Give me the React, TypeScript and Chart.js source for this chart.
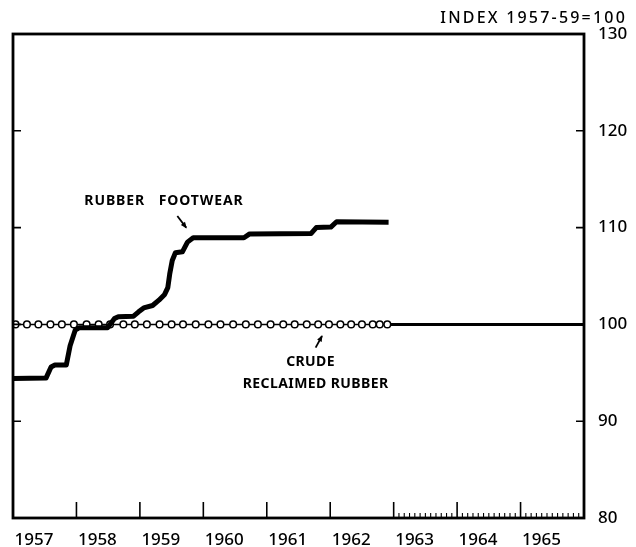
import React, { useEffect, useRef } from 'react';
import { Chart, registerables } from 'chart.js';
Chart.register(...registerables);

// ---- data ----
const yearLabels = ['1957', '1958', '1959', '1960', '1961', '1962', '1963', '1964', '1965'];
const yearStarts = [1957, 1958, 1959, 1960, 1961, 1962, 1963, 1964, 1965, 1966];
const minorTickYears = [1963, 1964, 1965];
const yTickValues = [80, 90, 100, 110, 120, 130];

const footwearDates = [
  1957.0, 1957.52, 1957.6, 1957.66, 1957.84, 1957.9, 1957.98, 1958.04, 1958.49, 1958.6,
  1958.66, 1958.9, 1958.98, 1959.06, 1959.2, 1959.3, 1959.39, 1959.44, 1959.47, 1959.51,
  1959.56, 1959.67, 1959.75, 1959.84, 1960.64, 1960.73, 1961.7, 1961.78, 1962.01, 1962.1,
  1962.92,
];
const footwearValues = [
  94.4, 94.45, 95.6, 95.8, 95.8, 97.8, 99.4, 99.65, 99.65, 100.6,
  100.8, 100.85, 101.3, 101.7, 101.95, 102.5, 103.1, 103.8, 105.2, 106.6,
  107.4, 107.5, 108.5, 108.95, 108.95, 109.35, 109.4, 110.0, 110.05, 110.6,
  110.55,
];

const crudeDates = [
  1957.04, 1957.22, 1957.4, 1957.59, 1957.77, 1957.96, 1958.16, 1958.35, 1958.53, 1958.74,
  1958.92, 1959.11, 1959.31, 1959.5, 1959.68, 1959.88, 1960.08, 1960.27, 1960.47, 1960.67,
  1960.86, 1961.06, 1961.26, 1961.44, 1961.63, 1961.81, 1961.98, 1962.16, 1962.33, 1962.5,
  1962.67, 1962.78, 1962.9,
];
const crudeValues = [
  100, 100, 100, 100, 100, 100, 100, 100, 100, 100,
  100, 100, 100, 100, 100, 100, 100, 100, 100, 100,
  100, 100, 100, 100, 100, 100, 100, 100, 100, 100,
  100, 100, 100,
];
const crudeLaterDates = [1962.95, 1966.0];
const crudeLaterValues = [100, 100];

const unitLabel = 'INDEX 1957-59=100';
const footwearLabel = 'RUBBER   FOOTWEAR';
const crudeLabel1 = 'CRUDE';
const crudeLabel2 = 'RECLAIMED RUBBER';

const FONT = '"Noto Sans", "Liberation Sans", Arial, sans-serif';

function arrow(ctx: CanvasRenderingContext2D, x1: number, y1: number, x2: number, y2: number) {
  const ang = Math.atan2(y2 - y1, x2 - x1);
  ctx.beginPath();
  ctx.moveTo(x1, y1);
  ctx.lineTo(x2, y2);
  ctx.lineWidth = 1.8;
  ctx.stroke();
  const h = 6;
  ctx.beginPath();
  ctx.moveTo(x2 + Math.cos(ang) * 1, y2 + Math.sin(ang) * 1);
  ctx.lineTo(x2 - Math.cos(ang - 0.45) * h, y2 - Math.sin(ang - 0.45) * h);
  ctx.lineTo(x2 - Math.cos(ang + 0.45) * h, y2 - Math.sin(ang + 0.45) * h);
  ctx.closePath();
  ctx.fill();
}

const decorPlugin = {
  id: 'decor',
  afterDraw(chart: any) {
    const ctx: CanvasRenderingContext2D = chart.ctx;
    const { left, right, top, bottom } = chart.chartArea;
    const xs = chart.scales.x;
    const ys = chart.scales.y;
    ctx.save();
    ctx.strokeStyle = '#000';
    ctx.fillStyle = '#000';
    // frame
    ctx.lineWidth = 2.8;
    ctx.strokeRect(left, top, right - left, bottom - top);
    // major x ticks (year boundaries)
    ctx.lineWidth = 1.6;
    yearStarts.forEach((yr) => {
      const px = xs.getPixelForValue(yr);
      ctx.beginPath();
      ctx.moveTo(px, bottom);
      ctx.lineTo(px, bottom - 16);
      ctx.stroke();
    });
    // minor monthly ticks
    ctx.lineWidth = 1.1;
    minorTickYears.forEach((yr) => {
      for (let m = 1; m < 12; m++) {
        const px = xs.getPixelForValue(yr + m / 12);
        ctx.beginPath();
        ctx.moveTo(px, bottom);
        ctx.lineTo(px, bottom - 5);
        ctx.stroke();
      }
    });
    // y ticks inward
    ctx.lineWidth = 1.6;
    [90, 100, 110, 120].forEach((v) => {
      const py = ys.getPixelForValue(v);
      ctx.beginPath();
      ctx.moveTo(right, py);
      ctx.lineTo(right - 8, py);
      ctx.moveTo(left, py);
      ctx.lineTo(left + 8, py);
      ctx.stroke();
    });
    // unit label
    ctx.font = `500 16px ${FONT}`;
    (ctx as any).letterSpacing = '2.2px';
    ctx.textAlign = 'right';
    ctx.textBaseline = 'middle';
    ctx.fillText(unitLabel, 627, 18);
    // annotations
    ctx.font = `bold 14px ${FONT}`;
    (ctx as any).letterSpacing = '0.9px';
    ctx.textAlign = 'center';
    ctx.fillText(footwearLabel, xs.getPixelForValue(1959.38), ys.getPixelForValue(112.7));
    (ctx as any).letterSpacing = '0.4px';
    ctx.fillText(crudeLabel1, xs.getPixelForValue(1961.69), ys.getPixelForValue(96.1));
    ctx.fillText(crudeLabel2, xs.getPixelForValue(1961.77), ys.getPixelForValue(93.8));
    (ctx as any).letterSpacing = '0px';
    arrow(ctx, xs.getPixelForValue(1959.59), ys.getPixelForValue(111.2), xs.getPixelForValue(1959.73), ys.getPixelForValue(110.0));
    arrow(ctx, xs.getPixelForValue(1961.77), ys.getPixelForValue(97.6), xs.getPixelForValue(1961.87), ys.getPixelForValue(98.8));
    ctx.restore();
  },
};

export default function App() {
  const ref = useRef<HTMLCanvasElement>(null);
  useEffect(() => {
    if (!ref.current) return;
    const chart = new Chart(ref.current, {
      type: 'line',
      data: {
        datasets: [
          {
            label: 'Rubber footwear',
            data: footwearDates.map((d, i) => ({ x: d, y: footwearValues[i] })),
            borderColor: '#000',
            borderWidth: 5,
            pointRadius: 0,
            tension: 0,
            borderJoinStyle: 'round',
          },
          {
            label: 'Crude reclaimed rubber',
            data: crudeDates.map((d, i) => ({ x: d, y: crudeValues[i] })),
            borderColor: '#000',
            borderWidth: 1.5,
            pointRadius: 3.3,
            pointBorderWidth: 1.5,
            pointBackgroundColor: '#fff',
            pointBorderColor: '#000',
            tension: 0,
          },
          {
            label: 'Crude reclaimed rubber (later)',
            data: crudeLaterDates.map((d, i) => ({ x: d, y: crudeLaterValues[i] })),
            borderColor: '#000',
            borderWidth: 3,
            pointRadius: 0,
            tension: 0,
          },
        ],
      },
      options: {
        responsive: false,
        animation: false,
        layout: { padding: { left: 13, top: 34, right: 0, bottom: 0 } },
        plugins: { legend: { display: false }, tooltip: { enabled: false }, title: { display: false } },
        scales: {
          x: {
            type: 'linear',
            min: 1957,
            max: 1966,
            grid: { display: false },
            border: { display: false },
            afterBuildTicks: (scale: any) => {
              scale.ticks = yearLabels.map((l) => ({ value: Number(l) + 0.33 }));
            },
            afterFit: (scale: any) => {
              scale.height = 29;
            },
            ticks: {
              autoSkip: false,
              maxRotation: 0,
              padding: 4,
              color: '#000',
              font: { family: FONT, size: 17, weight: '500' },
              callback: (v: any) => String(Math.floor(Number(v))),
            },
          },
          y: {
            type: 'linear',
            position: 'right',
            min: 80,
            max: 130,
            grid: { display: false },
            border: { display: false },
            afterBuildTicks: (scale: any) => {
              scale.ticks = yTickValues.map((v) => ({ value: v }));
            },
            afterFit: (scale: any) => {
              scale.width = 52;
            },
            ticks: {
              padding: 6,
              color: '#000',
              font: { family: FONT, size: 17, weight: '500' },
            },
          },
        },
      },
      plugins: [decorPlugin],
    } as any);
    return () => chart.destroy();
  }, []);
  return (
    <div style={{ position: 'fixed', left: 0, top: 0, width: 636, height: 547, background: '#fff' }}>
      <canvas ref={ref} width={636} height={547} style={{ width: 636, height: 547 }} />
    </div>
  );
}
